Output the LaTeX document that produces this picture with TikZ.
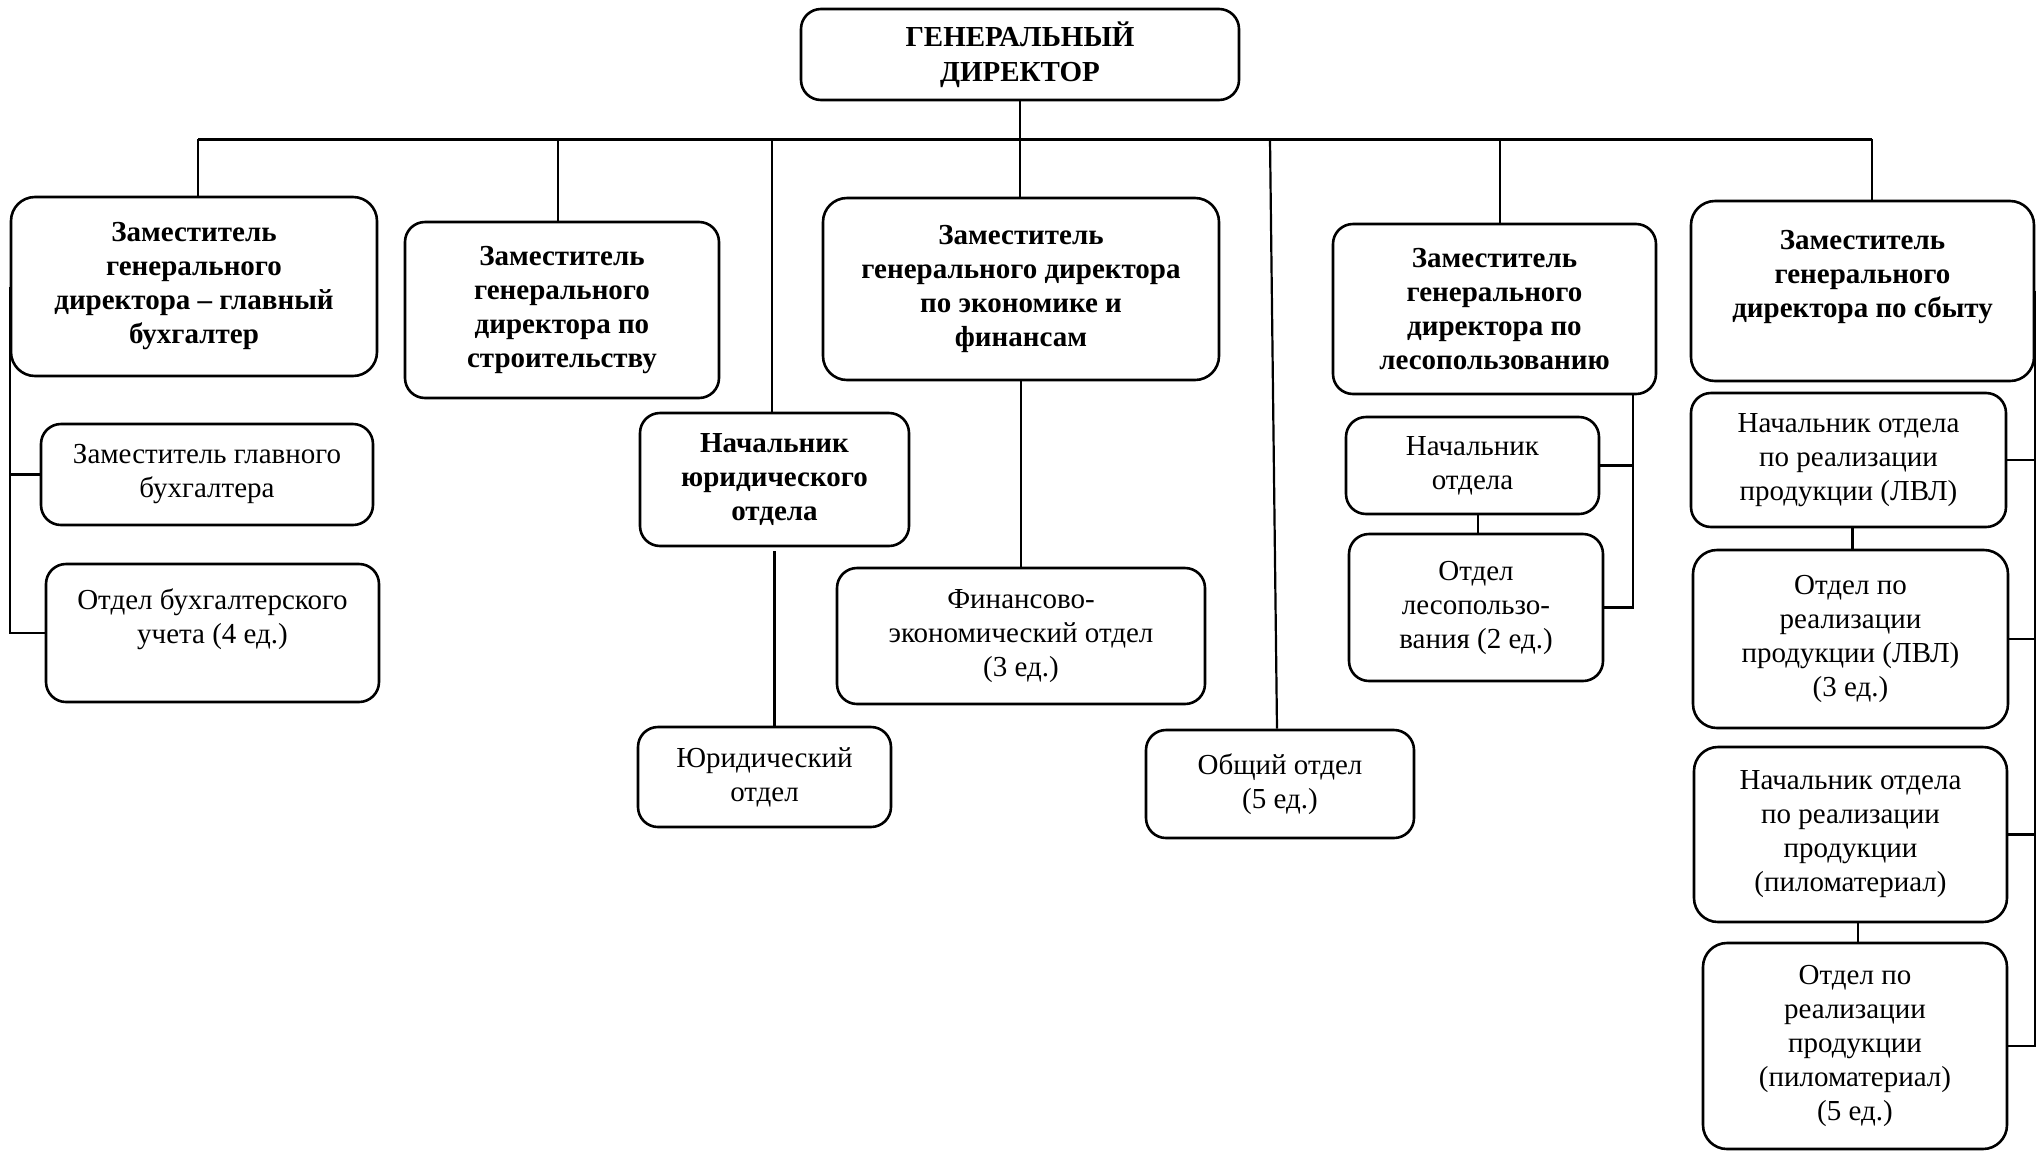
\documentclass[tikz,border=0pt]{standalone}
\usepackage{fontspec}
\setmainfont{Liberation Serif}
\begin{document}
\begin{tikzpicture}[x=0.5pt,y=-0.5pt,
 box/.style={draw, line width=1.3pt, rounded corners=10pt, align=center, inner sep=0pt, font=\fontsize{14.5}{17}\selectfont},
 bbox/.style={box, font=\fontsize{14.5}{17}\selectfont\bfseries},
 conn/.style={line width=1.1pt},
 bus/.style={line width=1.5pt}]
\useasboundingbox (0,0) rectangle (2042,1152);

% top level
\node[bbox, minimum width=219pt, minimum height=45.5pt, font=\fontsize{14.5}{17.5}\selectfont\bfseries] (gd) at (1020,54.5) {ГЕНЕРАЛЬНЫЙ\\ДИРЕКТОР};

% deputies
\node[bbox, minimum width=183pt, minimum height=89.5pt, rounded corners=12pt] (d1) at (194,286.5) {Заместитель\\генерального\\директора – главный\\бухгалтер};
\node[bbox, minimum width=157pt, minimum height=88pt] (d2) at (562,310) {Заместитель\\генерального\\директора по\\строительству};
\node[bbox, minimum width=134.5pt, minimum height=66.5pt] (nj) at (774.5,479.5) {Начальник\\юридического\\отдела};
\node[bbox, minimum width=198pt, minimum height=91pt, rounded corners=12pt] (d3) at (1021,289) {Заместитель\\генерального директора\\по экономике и\\финансам};
\node[bbox, minimum width=161.5pt, minimum height=85pt] (d4) at (1494.5,309) {Заместитель\\генерального\\директора по\\лесопользованию};
\node[bbox, minimum width=171.5pt, minimum height=90pt, rounded corners=12pt] (d5) at (1862.5,291) {Заместитель\\генерального\\директора по сбыту\\~};

% departments
\node[box, minimum width=166pt, minimum height=50.5pt] (zgb) at (207,474.5) {Заместитель главного\\бухгалтера};
\node[box, minimum width=166.5pt, minimum height=69pt] (obu) at (212.5,633) {Отдел бухгалтерского\\учета (4 ед.)\\~};
\node[box, minimum width=126.5pt, minimum height=50pt] (ujo) at (764.5,777) {Юридический\\отдел};
\node[box, minimum width=184pt, minimum height=68pt] (feo) at (1021,636) {Финансово-\\экономический отдел\\(3 ед.)};
\node[box, minimum width=134pt, minimum height=54pt] (oo) at (1280,784) {Общий отдел\\(5 ед.)};
\node[box, minimum width=126.5pt, minimum height=48.5pt] (no) at (1472.5,465.5) {Начальник\\отдела};
\node[box, minimum width=127pt, minimum height=73.5pt] (ol) at (1476,607.5) {Отдел\\лесопользо-\\вания (2 ед.)};
\node[box, minimum width=157.5pt, minimum height=67pt] (nlvl) at (1848.5,460) {Начальник отдела\\по реализации\\продукции (ЛВЛ)};
\node[box, minimum width=157.5pt, minimum height=89pt, rounded corners=12pt] (olvl) at (1850.5,639) {Отдел по\\реализации\\продукции (ЛВЛ)\\(3 ед.)};
\node[box, minimum width=156.5pt, minimum height=87.5pt, rounded corners=12pt] (npil) at (1850.5,834.5) {Начальник отдела\\по реализации\\продукции\\(пиломатериал)};
\node[box, minimum width=152pt, minimum height=103pt, rounded corners=12pt] (opil) at (1855,1046) {Отдел по\\реализации\\продукции\\(пиломатериал)\\(5 ед.)};

% bus
\coordinate (t1) at (198,139);
\coordinate (t2) at (558,139);
\coordinate (t3) at (772,139);
\coordinate (t5) at (1270,139);
\coordinate (t6) at (1500,139);
\coordinate (t7) at (1872,139);
\draw[bus] (t1) -- (t7);
\draw[conn] (gd.south) -- (gd.south |- d3.north);
\draw[conn] (t1) -- (t1 |- d1.north);
\draw[conn] (t2) -- (t2 |- d2.north);
\draw[conn] (t3) -- (t3 |- nj.north);
\draw[conn] (t5) -- ([xshift=-1.5pt]oo.north);
\draw[conn] (t6) -- (t6 |- d4.north);
\draw[conn] (t7) -- (t7 |- d5.north);

% chief accountant branch
\draw[conn] (d1.west) -- (d1.west |- obu.west) -- (obu.west);
\draw[conn] (d1.west |- zgb.west) -- (zgb.west);

% legal
\draw[conn] ([yshift=-2pt]nj.south) -- (nj.south |- ujo.north);

% economics
\draw[conn] (d3.south) -- (d3.south |- feo.north);

% forest use
\coordinate (r4) at (1633,394);
\draw[conn] (r4) -- (r4 |- ol.east) -- (ol.east);
\draw[conn] (no.east) -- (no.east -| r4);
\draw[conn] ([xshift=2.75pt]no.south) -- ([xshift=2.75pt]no.south |- ol.north);

% sales
\draw[conn] (d5.east) -- (d5.east |- opil.east) -- (opil.east);
\draw[conn] (nlvl.east) -- (nlvl.east -| d5.east);
\draw[conn] (olvl.east) -- (olvl.east -| d5.east);
\draw[conn] (npil.east) -- (npil.east -| d5.east);
\draw[conn] ([xshift=2pt]nlvl.south) -- ([xshift=2pt]nlvl.south |- olvl.north);
\draw[conn] ([xshift=3.75pt]npil.south) -- ([xshift=3.75pt]npil.south |- opil.north);
\end{tikzpicture}
\end{document}
